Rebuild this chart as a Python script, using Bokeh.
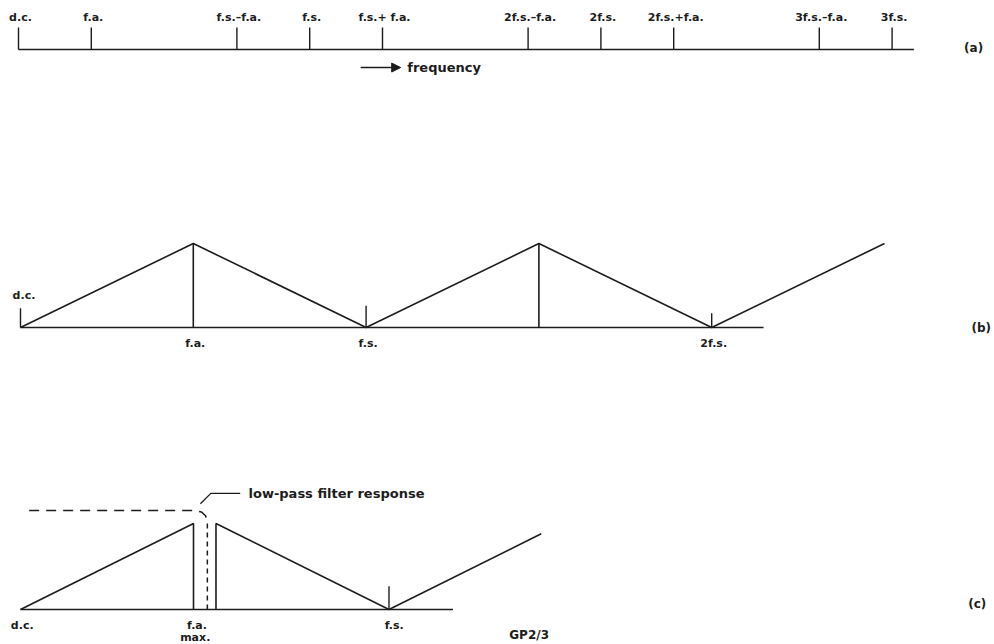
from bokeh.plotting import figure
from bokeh.layouts import column
from bokeh.models import Range1d, Label, Arrow, NormalHead, ColumnDataSource
from bokeh.core.properties import value
from bokeh.embed import file_html
from bokeh.resources import INLINE

# ---------------------------------------------------------------------------
# Frequencies are expressed in units of the analogue bandwidth f.a.
# ---------------------------------------------------------------------------

# (a) frequency scale, drawn with f.s. = 4 f.a.
A_TICK_FREQ = [0, 1, 3, 4, 5, 7, 8, 9, 11, 12]
A_TICK_LABELS = ["d.c.", "f.a.", "f.s.–f.a.", "f.s.", "f.s.+ f.a.",
                 "2f.s.–f.a.", "2f.s.", "2f.s.+f.a.", "3f.s.–f.a.", "3f.s."]
A_AXIS_END = 12.3

# (b) sampled spectrum, f.s. = 2 f.a.
B_FREQ = [0, 1, 2, 3, 4, 5]
B_AMP = [0, 1, 0, 1, 0, 1]
B_LINE_FREQ = [1, 3]            # vertical spectral lines at the peaks
B_TICK_FREQ = [0, 2, 4]
B_TICK_HEIGHT = [0.23, 0.26, 0.17]
B_LABEL_FREQ = [1, 2, 4]
B_LABELS = ["f.a.", "f.s.", "2f.s."]
B_AXIS_END = 4.3

# (c) band-limited input with anti-alias filter, f.s. = 2.13 f.a. max
C_FS = 2.13
C_BASE_FREQ = [0, 1, 1]
C_BASE_AMP = [0, 1, 0]
C_ALIAS_FREQ = [1.13, 1.13, 2.13, 3.01]
C_ALIAS_AMP = [0, 1, 0, 0.88]
C_TICK_HEIGHT = 0.27
C_FILTER_TOP_FREQ = [0.05, 1.0, 1.045, 1.07, 1.08]
C_FILTER_TOP_AMP = [1.15, 1.15, 1.135, 1.09, 1.0]
C_FILTER_SKIRT_FREQ = [1.08, 1.08]
C_FILTER_SKIRT_AMP = [1.0, 0.0]
C_LEADER_FREQ = [1.04, 1.10, 1.27]
C_LEADER_AMP = [1.23, 1.35, 1.35]
C_AXIS_END = 2.5

INK = "#1c1c1c"
LW = 1.6
FONT = "DejaVu Sans"


def panel(height, x0, x1, y0, y1):
    p = figure(width=994, height=height,
               x_range=Range1d(x0, x1), y_range=Range1d(y0, y1),
               output_backend="svg", toolbar_location=None,
               x_axis_location=None, y_axis_location=None,
               min_border=0)
    p.grid.visible = False
    p.outline_line_color = None
    p.background_fill_color = "white"
    p.border_fill_color = "white"
    return p


def label(p, x, y, text, size="11px", align="center"):
    p.add_layout(Label(x=x, y=y, text=text, text_font=FONT,
                       text_font_size=size, text_font_style="bold",
                       text_color=INK, text_align=align,
                       text_baseline="middle"))


# ---------------------------- panel (a) ------------------------------------
ua = 72.8          # pixels per f.a.
pa = panel(90, -18 / ua, -18 / ua + 994 / ua, -41 / 22, 49 / 22)
pa.line([0, A_AXIS_END], [0, 0], line_color=INK, line_width=LW)
pa.segment(x0=A_TICK_FREQ, y0=[0] * len(A_TICK_FREQ),
           x1=A_TICK_FREQ, y1=[1] * len(A_TICK_FREQ),
           line_color=INK, line_width=1.4)
src_a = ColumnDataSource(dict(x=A_TICK_FREQ, y=[1.45] * len(A_TICK_FREQ),
                              t=A_TICK_LABELS))
pa.text(x="x", y="y", text="t", source=src_a, text_font=value(FONT),
        text_font_size="11px", text_font_style="bold", text_color=INK,
        text_align="center", text_baseline="middle", x_offset=2)
pa.add_layout(Arrow(end=NormalHead(size=9, fill_color=INK, line_color=INK),
                    x_start=4.70, y_start=-0.82, x_end=5.25, y_end=-0.82,
                    line_color=INK, line_width=1.6))
label(pa, 5.34, -0.82, "frequency", size="13px", align="left")
label(pa, 13.12, 0.09, "(a)", size="12px")

# ---------------------------- panel (b) ------------------------------------
ub = 172.8
pb = panel(290, -20 / ub, -20 / ub + 994 / ub, -53 / 84, 237 / 84)
pb.line([0, B_AXIS_END], [0, 0], line_color=INK, line_width=LW)
pb.line(B_FREQ, B_AMP, line_color=INK, line_width=LW)
pb.segment(x0=B_LINE_FREQ, y0=[0] * len(B_LINE_FREQ),
           x1=B_LINE_FREQ, y1=[1] * len(B_LINE_FREQ),
           line_color=INK, line_width=LW)
pb.segment(x0=B_TICK_FREQ, y0=[0] * len(B_TICK_FREQ),
           x1=B_TICK_FREQ, y1=B_TICK_HEIGHT,
           line_color=INK, line_width=1.4)
src_b = ColumnDataSource(dict(x=B_LABEL_FREQ, y=[-0.19] * len(B_LABEL_FREQ),
                              t=B_LABELS))
pb.text(x="x", y="y", text="t", source=src_b, text_font=value(FONT),
        text_font_size="11px", text_font_style="bold", text_color=INK,
        text_align="center", text_baseline="middle", x_offset=2)
label(pb, 0.02, 0.38, "d.c.")
label(pb, 5.56, -0.01, "(b)", size="12px")

# ---------------------------- panel (c) ------------------------------------
uc = 173.0
pc = panel(264, -20 / uc, -20 / uc + 994 / uc, -35 / 86, 229 / 86)
pc.line([0, C_AXIS_END], [0, 0], line_color=INK, line_width=LW)
pc.line(C_BASE_FREQ, C_BASE_AMP, line_color=INK, line_width=LW)
pc.line(C_ALIAS_FREQ, C_ALIAS_AMP, line_color=INK, line_width=LW)
pc.segment(x0=[C_FS], y0=[0], x1=[C_FS], y1=[C_TICK_HEIGHT],
           line_color=INK, line_width=1.4)
pc.line(C_FILTER_TOP_FREQ, C_FILTER_TOP_AMP, line_color=INK, line_width=1.5,
        line_dash="10 7")
pc.line(C_FILTER_SKIRT_FREQ, C_FILTER_SKIRT_AMP, line_color=INK,
        line_width=1.5, line_dash="5 4")
pc.line(C_LEADER_FREQ, C_LEADER_AMP, line_color=INK, line_width=1.3)
label(pc, 1.318, 1.35, "low-pass filter response", size="13px", align="left")
label(pc, 0.01, -0.19, "d.c.")
label(pc, 1.02, -0.19, "f.a.")
label(pc, 1.01, -0.325, "max.")
label(pc, C_FS + 0.03, -0.19, "f.s.")
label(pc, 2.94, -0.30, "GP2/3", size="12px")
label(pc, 5.53, 0.06, "(c)", size="12px")

layout = column(pa, pb, pc, spacing=0)
open("out.html", "w").write(file_html(layout, INLINE))
